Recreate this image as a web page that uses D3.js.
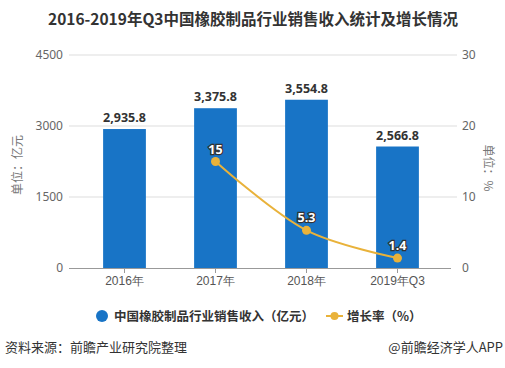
<!DOCTYPE html>
<html><head><meta charset="utf-8">
<script src="https://cdn.jsdelivr.net/npm/d3@7/dist/d3.min.js"></script>
<style>body{margin:0;background:#fff}svg{display:block;font-family:"Microsoft YaHei","Noto Sans CJK SC",sans-serif}</style>
</head><body>
<script>
const categories = ["2016年","2017年","2018年","2019年Q3"];
const revenue = [2935.8, 3375.8, 3554.8, 2566.8];
const growth = [null, 15, 5.3, 1.4];
const leftTicks = [0, 1500, 3000, 4500];
const rightTicks = [0, 10, 20, 30];

const W = 505, H = 368;
const svg = d3.select("body").append("svg").attr("width", W).attr("height", H);

const x = d3.scaleBand().domain(categories).range([79, 443]).paddingInner(0.53).paddingOuter(0.265);
const yL = d3.scaleLinear().domain([0, 4500]).range([268, 55]);
const yR = d3.scaleLinear().domain([0, 30]).range([268, 55]);
const blue = "#1874c6", gold = "#e9b23a";

svg.append("text").attr("x", 253).attr("y", 25).attr("text-anchor", "middle")
  .attr("font-size", 15.5).attr("font-weight", "bold").attr("fill", "#333")
  .text("2016-2019年Q3中国橡胶制品行业销售收入统计及增长情况");

// grid
svg.append("g").selectAll("line").data(leftTicks.slice(1)).join("line")
  .attr("x1", 69).attr("x2", 457).attr("y1", d => yL(d)).attr("y2", d => yL(d))
  .attr("stroke", "#ddd").attr("stroke-width", 1);

// left axis labels
const gl = svg.append("g").attr("transform", "translate(69,0)")
  .call(d3.axisLeft(yL).tickValues(leftTicks).tickFormat(d3.format("d")).tickSize(0).tickPadding(6));
gl.select(".domain").remove();
gl.selectAll("text").attr("font-size", 12).attr("fill", "#666").attr("font-family", "Noto Sans, sans-serif");

const gr = svg.append("g").attr("transform", "translate(457,0)")
  .call(d3.axisRight(yR).tickValues(rightTicks).tickSize(0).tickPadding(5));
gr.select(".domain").remove();
gr.selectAll("text").attr("font-size", 12).attr("fill", "#666").attr("font-family", "Noto Sans, sans-serif");

// axis titles
svg.append("text").attr("transform", "translate(22,165) rotate(-90)").attr("text-anchor", "middle")
  .attr("font-size", 12).attr("fill", "#777").text("单位：亿元");
svg.append("text").attr("transform", "translate(484,168) rotate(90)").attr("text-anchor", "middle")
  .attr("font-size", 12).attr("fill", "#777").text("单位：%");

// bars
svg.append("g").selectAll("rect").data(revenue).join("rect")
  .attr("x", (d, i) => x(categories[i])).attr("width", x.bandwidth())
  .attr("y", d => yL(d)).attr("height", d => yL(0) - yL(d)).attr("fill", blue);

// bottom axis
const gx = svg.append("g").attr("transform", "translate(0,268)")
  .call(d3.axisBottom(x).tickSize(5).tickPadding(3));
gx.select(".domain").attr("d", "M69,0.5H451").attr("stroke", "#999");
gx.selectAll(".tick line").attr("stroke", "#999");
gx.selectAll("text").attr("font-size", 12).attr("fill", "#555");

// bar labels
svg.append("g").selectAll("text").data(revenue).join("text")
  .attr("x", (d, i) => x(categories[i]) + x.bandwidth() / 2).attr("y", d => yL(d) - 7)
  .attr("text-anchor", "middle").attr("font-size", 12.5).attr("font-weight", "bold").attr("fill", "#333")
  .attr("font-family", "Noto Sans, sans-serif")
  .text(d => d3.format(",.1f")(d));

// line
const pts = growth.map((g, i) => g == null ? null : [x(categories[i]) + x.bandwidth() / 2, yR(g), g]).filter(p => p);
svg.append("path").attr("d", d3.line().curve(d3.curveCatmullRom.alpha(0.5))(pts.map(p => [p[0], p[1]])))
  .attr("fill", "none").attr("stroke", gold).attr("stroke-width", 2);
svg.append("g").selectAll("circle").data(pts).join("circle")
  .attr("cx", p => p[0]).attr("cy", p => p[1]).attr("r", 4.5).attr("fill", gold);
svg.append("g").selectAll("text").data(pts).join("text")
  .attr("x", p => p[0]).attr("y", p => p[1] - 8).attr("text-anchor", "middle")
  .attr("font-size", 12.5).attr("font-weight", "bold").attr("fill", "#fff")
  .attr("stroke", "#333").attr("stroke-width", 2.5).attr("paint-order", "stroke")
  .attr("font-family", "Noto Sans, sans-serif")
  .text(p => p[2]);

// legend
svg.append("circle").attr("cx", 102).attr("cy", 316).attr("r", 6).attr("fill", blue);
svg.append("text").attr("x", 114).attr("y", 320.5).attr("font-size", 12.5).attr("font-weight", "bold").attr("fill", "#333")
  .text("中国橡胶制品行业销售收入（亿元）");
svg.append("line").attr("x1", 326).attr("x2", 343).attr("y1", 316).attr("y2", 316).attr("stroke", gold).attr("stroke-width", 2);
svg.append("circle").attr("cx", 334.5).attr("cy", 316).attr("r", 4).attr("fill", gold);
svg.append("text").attr("x", 347).attr("y", 320.5).attr("font-size", 12.5).attr("font-weight", "bold").attr("fill", "#333")
  .text("增长率（%）");

// footer
svg.append("text").attr("x", 5).attr("y", 352).attr("font-size", 13).attr("fill", "#333").text("资料来源：前瞻产业研究院整理");
svg.append("text").attr("x", 503).attr("y", 352).attr("text-anchor", "end").attr("font-size", 13).attr("fill", "#333").text("@前瞻经济学人APP");
</script>
</body></html>
